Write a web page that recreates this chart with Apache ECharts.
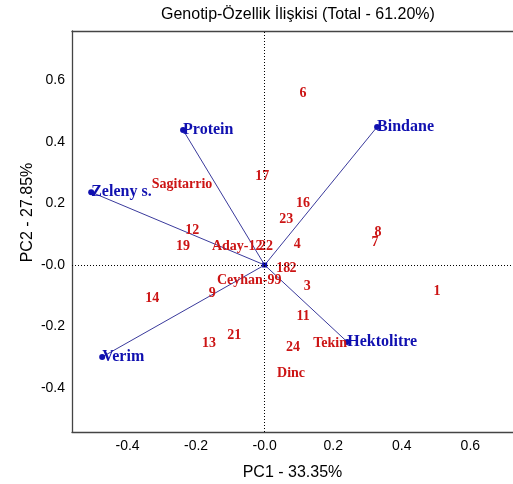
<!DOCTYPE html>
<html>
<head>
<meta charset="utf-8">
<script src="https://cdn.jsdelivr.net/npm/echarts@6/dist/echarts.min.js"></script>
<style>
  html, body { margin: 0; padding: 0; background: #fff; }
  #chart { width: 513px; height: 484px; }
</style>
</head>
<body>
<div id="chart"></div>
<script>
// genotype scores (PC1, PC2)
var genotypeNames = ['1', '3', '4', '6', '7', '8', '9', '11', '12', '13', '14', '16', '17', '18', '2', '19', '21', '22', '23', '24',
  'Aday-12', 'Ceyhan-99', 'Sagitarrio', 'Tekin', 'Dinc']
var genotypePC1 = [0.503, 0.124, 0.095, 0.112, 0.322, 0.331, -0.153, 0.112, -0.211, -0.162, -0.328, 0.112, -0.007, 0.054, 0.083, -0.238, -0.089, 0.004, 0.063, 0.083,
  -0.080, -0.045, -0.241, 0.191, 0.077]
var genotypePC2 = [-0.085, -0.068, 0.068, 0.559, 0.075, 0.107, -0.091, -0.166, 0.111, -0.254, -0.107, 0.202, 0.289, -0.010, -0.010, 0.059, -0.228, 0.062, 0.150, -0.267,
  0.062, -0.049, 0.263, -0.254, -0.354]

// trait vectors
var traitNames = ['Protein', 'Zeleny s.', 'Bindane', 'Verim', 'Hektolitre']
var traitPC1 = [-0.238, -0.506, 0.328, -0.474, 0.241]
var traitPC2 = [0.439, 0.237, 0.449, -0.299, -0.250]

var tickValues = [-0.4, -0.2, 0, 0.2, 0.4, 0.6]

var fmt = function (v) {
  var s = Number(v).toFixed(1)
  return Math.abs(v) < 1e-9 ? '-0.0' : s
}

var chart = echarts.init(document.getElementById('chart'))

var genotypeData = genotypeNames.map(function (n, i) {
  return { name: n, value: [genotypePC1[i], genotypePC2[i]] }
})
var traitData = traitNames.map(function (n, i) {
  return { name: n, value: [traitPC1[i], traitPC2[i]] }
})
var vectorData = traitNames.map(function (n, i) {
  return { coords: [[0, 0], [traitPC1[i], traitPC2[i]]] }
})

var axisFont = { fontFamily: 'Liberation Sans', fontSize: 14, color: '#000' }
var nameFont = { fontFamily: 'Liberation Sans', fontSize: 16, color: '#000' }
var frame = { show: true, onZero: false, lineStyle: { color: '#444', width: 1.3 } }

var option = {
  animation: false,
  backgroundColor: '#fff',
  title: {
    text: 'Genotip-Özellik İlişkisi (Total - 61.20%)',
    left: 156,
    top: 2,
    textStyle: { fontFamily: 'Liberation Sans', fontSize: 16, fontWeight: 'normal', color: '#000' }
  },
  grid: { left: 72, top: 31, right: 0, bottom: 52, outerBoundsMode: 'none', containLabel: false },
  xAxis: [
    {
      type: 'value',
      min: -0.562,
      max: 0.7245,
      name: 'PC1 - 33.35%',
      nameLocation: 'middle',
      nameGap: 33,
      nameMoveOverlap: false,
      nameTextStyle: nameFont,
      axisLine: frame,
      axisTick: { show: false },
      splitLine: { show: false },
      axisLabel: Object.assign({ customValues: tickValues, formatter: fmt, margin: 7 }, axisFont)
    },
    {
      type: 'value',
      position: 'top',
      min: -0.562,
      max: 0.7245,
      axisLine: frame,
      axisTick: { show: false },
      axisLabel: { show: false },
      splitLine: { show: false }
    }
  ],
  yAxis: {
    type: 'value',
    min: -0.543,
    max: 0.761,
    name: 'PC2 - 27.85%',
    nameLocation: 'middle',
    nameGap: 36,
    nameMoveOverlap: false,
    nameTextStyle: Object.assign({ padding: [0, 0, 0, 38] }, nameFont),
    axisLine: frame,
    axisTick: { show: false },
    splitLine: { show: false },
    axisLabel: Object.assign({ customValues: tickValues, formatter: fmt, margin: 7 }, axisFont)
  },
  series: [
    {
      type: 'lines',
      coordinateSystem: 'cartesian2d',
      silent: true,
      lineStyle: { color: '#3a3a9c', width: 1, opacity: 1 },
      data: vectorData,
      markLine: {
        silent: true,
        symbol: 'none',
        label: { show: false },
        lineStyle: { color: '#000', type: [1, 2], width: 1 },
        data: [{ xAxis: 0 }, { yAxis: 0 }]
      }
    },
    {
      type: 'scatter',
      symbolSize: 0,
      itemStyle: { opacity: 1 },
      data: genotypeData,
      label: {
        show: true,
        position: 'inside',
        formatter: '{b}',
        fontFamily: 'Liberation Serif',
        fontWeight: 'bold',
        fontSize: 14,
        color: '#cc1414'
      }
    },
    {
      type: 'scatter',
      symbol: 'circle',
      symbolSize: 6,
      itemStyle: { color: '#1010b0', opacity: 1 },
      data: traitData,
      label: {
        show: true,
        position: 'right',
        distance: -3,
        formatter: '{b}',
        fontFamily: 'Liberation Serif',
        fontWeight: 'bold',
        fontSize: 16,
        color: '#1010b0'
      }
    },
    {
      type: 'scatter',
      symbol: 'rect',
      symbolSize: 5,
      itemStyle: { color: '#1010b0', opacity: 1 },
      data: [[0, 0]]
    }
  ]
}

chart.setOption(option)
</script>
</body>
</html>
